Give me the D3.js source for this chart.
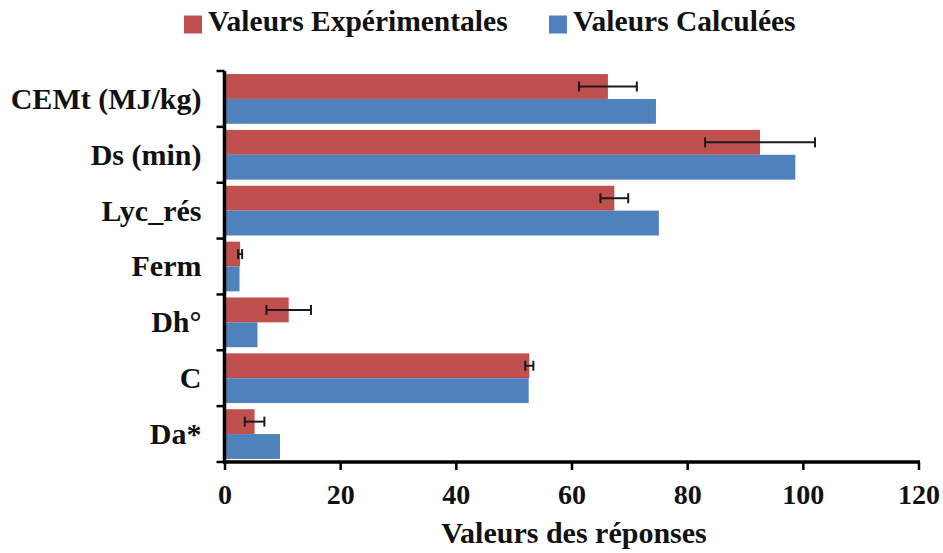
<!DOCTYPE html>
<html>
<head>
<meta charset="utf-8">
<script src="https://cdn.jsdelivr.net/npm/d3@7"></script>
<style>
  html, body { margin: 0; padding: 0; background: #fff; }
  svg { display: block; }
  text { font-family: "Liberation Serif", "Times New Roman", serif; font-weight: bold; fill: #111; }
</style>
</head>
<body>
<svg id="chart" width="943" height="553"></svg>
<script>
// Response parameters, listed top to bottom
const categories = ["CEMt (MJ/kg)", "Ds (min)", "Lyc_rés", "Ferm", "Dh°", "C", "Da*"];
// Experimental values and their error (±)
const experimental = [66.3, 92.6, 67.4, 2.7, 11.1, 52.7, 5.2];
const experimentalError = [5.0, 9.5, 2.4, 0.35, 3.85, 0.7, 1.7];
// Values computed by the model
const calculated = [74.6, 98.7, 75.1, 2.6, 5.7, 52.6, 9.6];
const xTicks = [0, 20, 40, 60, 80, 100, 120];
const seriesNames = ["Valeurs Expérimentales", "Valeurs Calculées"];
const seriesColors = ["#C0504D", "#4F81BD"];
const xTitle = "Valeurs des réponses";

const svg = d3.select("#chart");

const x = d3.scaleLinear().domain([0, 120]).range([224.5, 918.5]);
const y = d3.scaleBand().domain(categories).range([71, 462])
  .paddingInner(0.11).paddingOuter(0.055);
const sub = d3.scaleBand().domain([0, 1]).range([0, y.bandwidth()]);

const rows = categories.map((c, i) => ({
  cat: c,
  values: [experimental[i], calculated[i]],
  err: experimentalError[i]
}));

// Bars
const groups = svg.append("g").selectAll("g").data(rows).join("g")
  .attr("transform", d => `translate(0,${y(d.cat)})`);

groups.selectAll("rect").data(d => d.values.map((v, k) => ({ v, k }))).join("rect")
  .attr("x", x(0))
  .attr("y", d => sub(d.k))
  .attr("width", d => x(d.v) - x(0))
  .attr("height", sub.bandwidth())
  .attr("fill", d => seriesColors[d.k]);

// Error bars on the experimental series
const eb = groups.append("g")
  .attr("stroke", "#1a1a1a").attr("stroke-width", 2);
eb.append("line")
  .attr("x1", d => x(d.values[0] - d.err)).attr("x2", d => x(d.values[0] + d.err))
  .attr("y1", sub(0) + sub.bandwidth() / 2).attr("y2", sub(0) + sub.bandwidth() / 2);
[-1, 1].forEach(s => {
  eb.append("line")
    .attr("x1", d => x(d.values[0] + s * d.err)).attr("x2", d => x(d.values[0] + s * d.err))
    .attr("y1", sub(0) + sub.bandwidth() / 2 - 5).attr("y2", sub(0) + sub.bandwidth() / 2 + 5);
});

// X axis
const xAxis = svg.append("g")
  .attr("transform", `translate(0,462)`)
  .call(d3.axisBottom(x).tickValues(xTicks).tickSize(8).tickPadding(14).tickSizeOuter(0));
xAxis.select(".domain").attr("stroke", "#000").attr("stroke-width", 3.5)
  .attr("d", `M${x(0) - 1.5},0H${x(120) + 1.5}`);
xAxis.selectAll(".tick line").attr("stroke", "#000").attr("stroke-width", 2.5);
xAxis.selectAll(".tick text").attr("font-size", 28).attr("font-family", null).attr("fill", "#111");

// Y axis: labels centred on each category, ticks on category boundaries
const yAxis = svg.append("g")
  .attr("transform", `translate(${x(0)},0)`)
  .call(d3.axisLeft(y).tickSize(0).tickPadding(23));
yAxis.select(".domain").attr("stroke", "#000").attr("stroke-width", 3.5)
  .attr("d", "M0,71V463.5");
yAxis.selectAll(".tick text").attr("font-size", 30).attr("font-family", null)
  .attr("fill", "#111").attr("dy", "0.33em");

const bounds = categories.map(c => y(c) - y.step() * y.paddingInner() / 2).concat([462]);
svg.append("g").selectAll("line").data(bounds).join("line")
  .attr("x1", x(0) - 8).attr("x2", x(0))
  .attr("y1", d => d).attr("y2", d => d)
  .attr("stroke", "#000").attr("stroke-width", 2.5);

// Axis title
svg.append("text")
  .attr("x", 574).attr("y", 543)
  .attr("text-anchor", "middle").attr("font-size", 30)
  .text(xTitle);

// Legend
const legendX = [184, 549];
const legend = svg.append("g").selectAll("g").data(seriesNames).join("g")
  .attr("transform", (d, i) => `translate(${legendX[i]},0)`);
legend.append("rect")
  .attr("x", 0).attr("y", 15.5).attr("width", 18).attr("height", 18)
  .attr("fill", (d, i) => seriesColors[i]);
legend.append("text")
  .attr("x", 24).attr("y", 31).attr("font-size", 29.5)
  .text(d => d);
</script>
</body>
</html>
